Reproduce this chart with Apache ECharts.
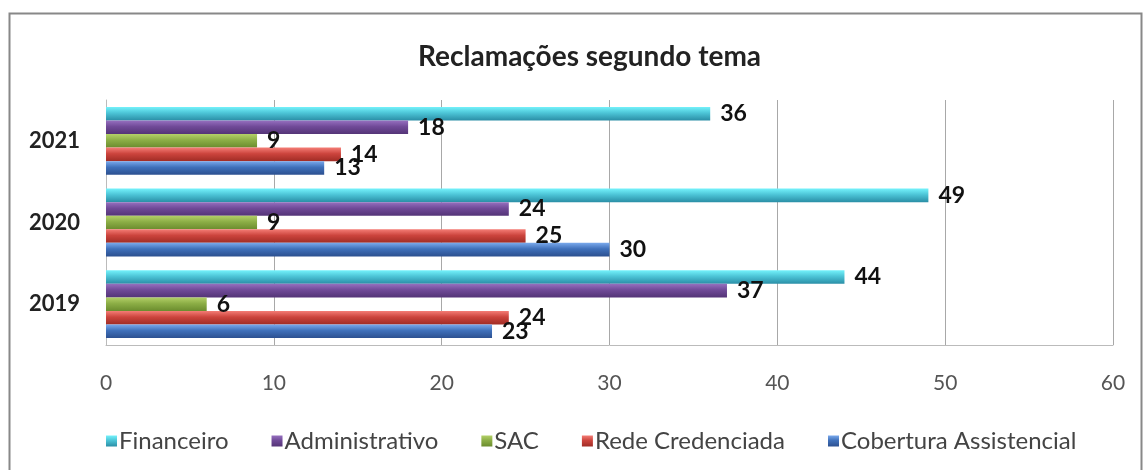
<!DOCTYPE html>
<html>
<head>
<meta charset="utf-8">
<script src="https://cdn.jsdelivr.net/npm/echarts@6/dist/echarts.min.js"></script>
<style>
	html, body { margin: 0; padding: 0; background: #fff; }
	#chart { width: 1143px; height: 470px; }
</style>
</head>
<body>
<div id="chart"></div>
<script>
var anos = ["2019", "2020", "2021"];
var cobertura = [23, 30, 13];
var rede = [24, 25, 14];
var sac = [6, 9, 9];
var administrativo = [37, 24, 18];
var financeiro = [44, 49, 36];
var legendaOrdem = ["Financeiro", "Administrativo", "SAC", "Rede Credenciada", "Cobertura Assistencial"];

var fonte = "Lato, 'Open Sans', sans-serif";

/******gradiente da barra*********/
function grad(c1, c2, c3) {
	return new echarts.graphic.LinearGradient(0, 0, 0, 1, [
		{ offset: 0, color: c1 },
		{ offset: 0.45, color: c2 },
		{ offset: 1, color: c3 }
	], false);
}

function serie(nome, dados, cores) {
	return {
		name: nome,
		type: "bar",
		data: dados,
		barGap: "0%",
		barCategoryGap: "17%",
		itemStyle: {
			color: grad(cores[0], cores[1], cores[2])
		},
		label: {
			show: true,
			position: "right",
			distance: 10,
			color: "#111",
			fontFamily: fonte,
			fontWeight: "bold",
			fontSize: 23
		}
	};
}

var chart = echarts.init(document.getElementById("chart"));
var option = {
	animation: false,
	title: {
		text: "Reclamações segundo tema",
		left: 413,
		top: 38,
		textStyle: {
			fontFamily: fonte,
			fontWeight: "bold",
			fontSize: 28,
			color: "#222"
		}
	},
	legend: {
		data: legendaOrdem,
		left: 101,
		top: 424,
		itemWidth: 11,
		itemHeight: 11,
		itemGap: 43,
		icon: "rect",
		textStyle: {
			fontFamily: fonte,
			fontSize: 24,
			color: "#444",
			padding: [0, 0, 0, -3]
		}
	},
	grid: {
		left: 106,
		right: 30,
		top: 100,
		bottom: 125
	},
	xAxis: {
		type: "value",
		min: 0,
		max: 60,
		interval: 10,
		axisLine: { show: true, lineStyle: { color: "#bbb" } },
		axisTick: { show: false },
		splitLine: { show: true, lineStyle: { color: "#a8a8a8", width: 1 } },
		axisLabel: {
			margin: 28,
			fontFamily: fonte,
			fontSize: 21,
			color: "#555"
		}
	},
	yAxis: {
		type: "category",
		data: anos,
		axisLine: { show: true, lineStyle: { color: "#bbb" } },
		axisTick: { show: false },
		axisLabel: {
			margin: 26,
			fontFamily: fonte,
			fontWeight: "bold",
			fontSize: 22,
			color: "#222"
		}
	},
	series: [
		serie("Financeiro", financeiro, ["#74f2fb", "#4cc4d6", "#2a8ea6"]),
		serie("Administrativo", administrativo, ["#9670bf", "#704a98", "#543477"]),
		serie("SAC", sac, ["#b3d068", "#8cae46", "#6b8c2e"]),
		serie("Rede Credenciada", rede, ["#f47d76", "#cc443d", "#a02c25"]),
		serie("Cobertura Assistencial", cobertura, ["#7aa9ec", "#3f70ba", "#2c5090"])
	],
	graphic: [{
		type: "rect",
		shape: { x: 9.5, y: 13.5, width: 1132, height: 470 },
		style: { fill: "none", stroke: "#888", lineWidth: 2 },
		silent: true
	}]
};
chart.setOption(option);
</script>
</body>
</html>
